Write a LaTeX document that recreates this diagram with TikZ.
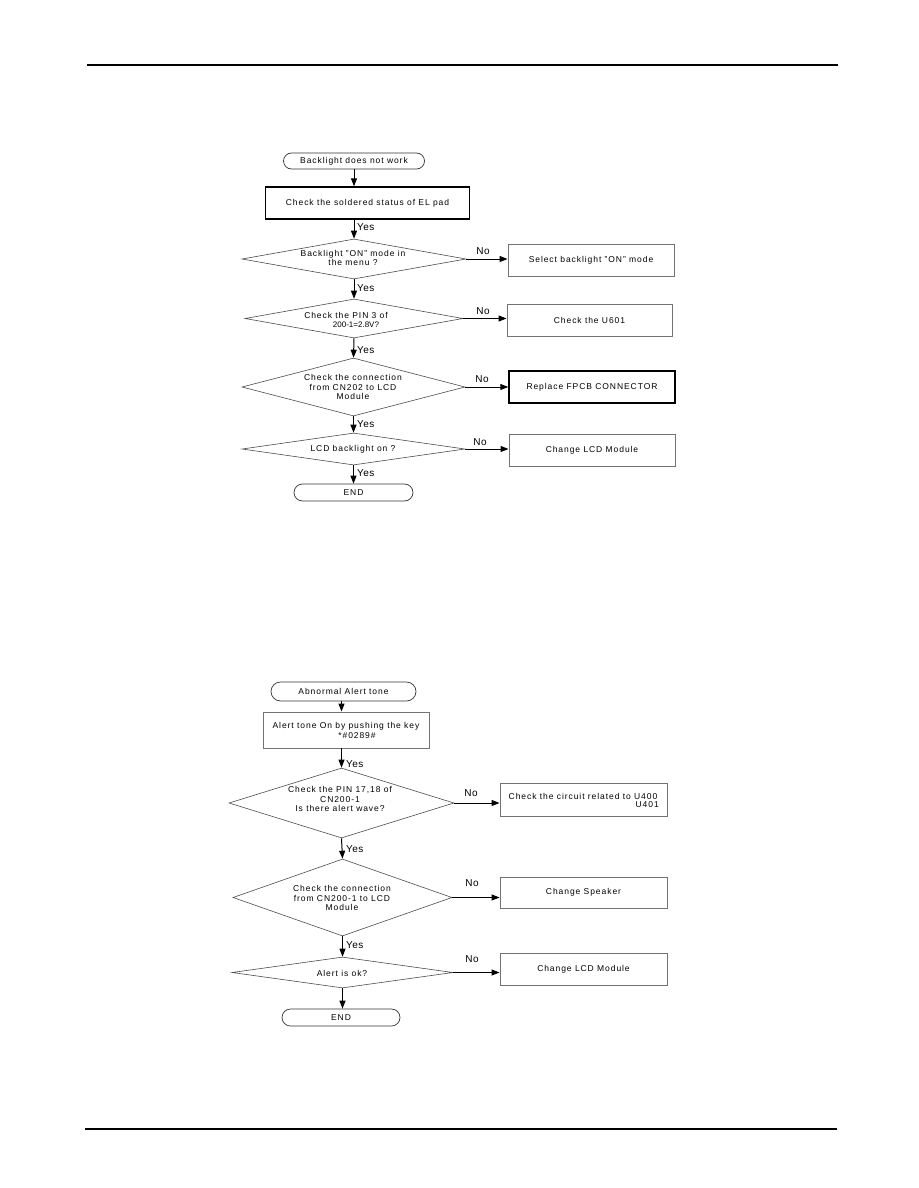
\documentclass[tikz,border=0pt]{standalone}
\usepackage{fontspec}
\setmainfont{Liberation Sans}[LetterSpace=11]
\newfontfamily\plainf{Liberation Sans}
\newfontfamily\lblf{Liberation Sans}[LetterSpace=4]
\usetikzlibrary{arrows.meta,shapes.geometric,shapes.misc}
\begin{document}
\begin{tikzpicture}[x=1pt,y=-1pt,
  every node/.style={font=\fontsize{8.5}{9.5}\selectfont},
  term/.style={rounded rectangle,draw=black!80,line width=0.7pt,inner sep=0pt},
  thickbox/.style={rectangle,draw=black,line width=1.4pt,inner sep=0pt},
  thinbox/.style={rectangle,draw=black!55,line width=0.9pt,inner sep=0pt},
  dia/.style={diamond,draw=black!70,line width=0.6pt,inner sep=0pt},
  txt/.style={inner sep=0pt,align=center},
  lbl/.style={inner sep=0pt,anchor=west,font=\lblf\fontsize{10}{11}\selectfont},
  nolbl/.style={inner sep=0pt,font=\lblf\fontsize{10}{11}\selectfont},
  tx/.style={inner sep=0pt},
  arr/.style={-{Triangle[length=8pt,width=6pt]},line width=1pt,black},
  rule/.style={line width=1.1pt,black}]
\useasboundingbox (0,0) rectangle (918,1188);
% page rules
\coordinate (hl) at (87,65); \coordinate (hr) at (838,65);
\coordinate (fl) at (85,1129); \coordinate (fr) at (837,1129);
\draw[rule] (hl) -- (hr);
\draw[rule] (fl) -- (fr);

% ---------------- chart 1 ----------------
\node[term,minimum width=141pt,minimum height=16pt] (t1) at (354,161) {Backlight does not work};
\node[thickbox,minimum width=204pt,minimum height=32pt] (b1) at (367.5,203) {Check the soldered status of EL pad};
\node[dia,minimum width=224pt,minimum height=40pt] (d1) at (354,259) {};
\node[txt] (d1t) at (353,258) {Backlight "ON" mode in\\the menu ?};
\node[thinbox,minimum width=166pt,minimum height=32pt] (s1) at (591,260) {Select backlight "ON" mode};
\node[dia,minimum width=218pt,minimum height=39pt] (d2) at (354,318.5) {};
\node[tx] (d2a) at (346,315) {Check the PIN 3 of};
\node[tx,font=\plainf\fontsize{8}{9}\selectfont] (d2b) at (356,324.5) {200-1=2.8V?};
\node[thinbox,minimum width=165pt,minimum height=32pt] (s2) at (589.5,320) {Check the U601};
\node[dia,minimum width=223pt,minimum height=58pt] (d3) at (353.5,387) {};
\node[txt] (d3t) at (353,387) {Check the connection\\from CN202 to LCD\\Module};
\node[thickbox,minimum width=166pt,minimum height=32pt] (s3) at (592,387) {Replace FPCB CONNECTOR};
\node[dia,minimum width=223pt,minimum height=32pt] (d4) at (353.5,449) {};
\node[txt] (d4t) at (353,449) {LCD backlight on ?};
\node[thinbox,minimum width=166pt,minimum height=32pt] (s4) at (592,450) {Change LCD Module};
\node[term,minimum width=119pt,minimum height=17pt] (e1) at (353.5,492.5) {END};

\draw[arr] (t1.south -| d1.north) -- (b1.north -| d1.north);
\draw[arr] (b1.south -| d1.north) -- (d1.north);
\draw[arr] (d1.south) -- (d2.north);
\draw[arr] (d2.south) -- (d3.north);
\draw[arr] (d3.south) -- (d4.north);
\draw[arr] (d4.south) -- (e1.north);
\draw[arr] (d1.east) -- (d1.east -| s1.west);
\draw[arr] (d2.east) -- (d2.east -| s2.west);
\draw[arr] (d3.east) -- (d3.east -| s3.west);
\draw[arr] (d4.east) -- (d4.east -| s4.west);

\node[lbl] (y1) at (357,227) {Yes};
\node[lbl] (y2) at (357,288) {Yes};
\node[lbl] (y3) at (357,350) {Yes};
\node[lbl] (y4) at (357,424) {Yes};
\node[lbl] (y5) at (357,473) {Yes};
\node[nolbl] (n1) at (483,251) {No};
\node[nolbl] (n2) at (483,311) {No};
\node[nolbl] (n3) at (482,379) {No};
\node[nolbl] (n4) at (480,442) {No};

% ---------------- chart 2 ----------------
\node[term,minimum width=145pt,minimum height=19pt] (t2) at (343.5,691.5) {Abnormal Alert tone};
\node[thinbox,minimum width=166pt,minimum height=36pt] (b2) at (346,730) {};
\node[tx] (b2a) at (346,726.5) {Alert tone On by pushing the key};
\node[tx] (b2b) at (357,736) {*\#0289\#};
\node[dia,minimum width=225pt,minimum height=70pt] (d5) at (341.5,803) {};
\node[txt] (d5t) at (340,799) {Check the PIN 17,18 of\\CN200-1\\Is there alert wave?};
\node[thinbox,minimum width=167pt,minimum height=33pt] (s5) at (583.5,799.5) {};
\node[tx] (s5a) at (583,796) {Check the circuit related to U400};
\node[tx,anchor=east] (s5b) at (659,805) {U401};
\node[dia,minimum width=219pt,minimum height=77pt] (d6) at (342.5,897.5) {};
\node[txt] (d6t) at (342,898) {Check the connection\\from CN200-1 to LCD\\Module};
\node[thinbox,minimum width=167pt,minimum height=31pt] (s6) at (583.5,892.5) {Change Speaker};
\node[dia,minimum width=221pt,minimum height=31pt] (d7) at (342.5,972.5) {};
\node[txt] (d7t) at (342,973) {Alert is ok?};
\node[thinbox,minimum width=167pt,minimum height=32pt] (s7) at (583.5,969) {Change LCD Module};
\node[term,minimum width=118pt,minimum height=17pt] (e2) at (341,1017.5) {END};

\draw[arr] (t2.south -| d5.north) -- (b2.north -| d5.north);
\draw[arr] (b2.south -| d5.north) -- (d5.north);
\draw[arr] (d5.south) -- (d6.north);
\draw[arr] (d6.south) -- (d7.north);
\draw[arr] (d7.south) -- (e2.north -| d7.south);
\draw[arr] (d5.east) -- (d5.east -| s5.west);
\draw[arr] (d6.east) -- (d6.east -| s6.west);
\draw[arr] (d7.east) -- (d7.east -| s7.west);

\node[lbl] (y6) at (346,764) {Yes};
\node[lbl] (y7) at (346,849) {Yes};
\node[lbl] (y8) at (346,945) {Yes};
\node[nolbl] (n5) at (471,793) {No};
\node[nolbl] (n6) at (472,883) {No};
\node[nolbl] (n7) at (472,959) {No};
\end{tikzpicture}
\end{document}
